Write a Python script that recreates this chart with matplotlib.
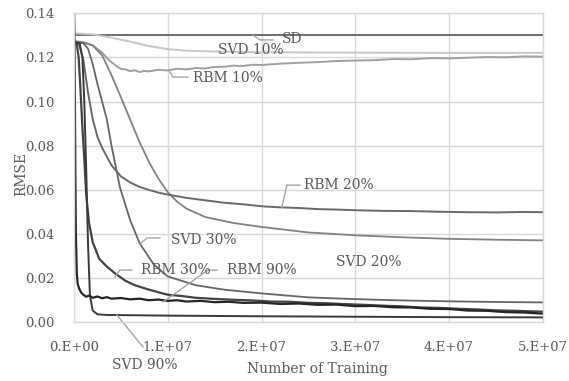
import matplotlib
matplotlib.use("Agg")
import matplotlib.pyplot as plt

# Datos (x en unidades de 1e7 entrenamientos, y = RMSE)
x_ticks = [0, 1, 2, 3, 4, 5]
x_tick_labels = ["0.E+00", "1.E+07", "2.E+07", "3.E+07", "4.E+07", "5.E+07"]
y_ticks = [0.00, 0.02, 0.04, 0.06, 0.08, 0.10, 0.12, 0.14]

sd_x = [0, 5]
sd_y = [0.130, 0.130]

svd10_x = [0, 0.2, 0.4, 0.6, 0.8, 1.0, 1.2, 1.5, 2.0, 3.0, 4.0, 5.0]
svd10_y = [0.131, 0.1305, 0.129, 0.1272, 0.1252, 0.1238, 0.1231, 0.1227, 0.1224, 0.1222, 0.1221, 0.1221]

rbm10_x = [0, 0.1, 0.2, 0.3, 0.38, 0.45, 0.5, 0.55, 0.6, 0.65,
           0.7, 0.75, 0.8, 0.9, 1.0, 1.1, 1.2, 1.3, 1.4, 1.5,
           1.6, 1.7, 1.8, 1.9, 2.0, 2.2, 2.4, 2.6, 2.8, 3.0,
           3.2, 3.4, 3.6, 3.8, 4.0, 4.2, 4.4, 4.6, 4.8, 5.0]
rbm10_y = [0.1275, 0.127, 0.1255, 0.1222, 0.1185, 0.1162, 0.1148, 0.1146, 0.1138, 0.1142,
           0.1134, 0.1139, 0.1137, 0.1144, 0.1141, 0.1149, 0.1146, 0.1152, 0.1150, 0.1157,
           0.1158, 0.1163, 0.1161, 0.1167, 0.1166, 0.1172, 0.1176, 0.1179, 0.1184, 0.1186,
           0.1188, 0.1193, 0.1192, 0.1197, 0.1196, 0.1199, 0.1202, 0.1201, 0.1205, 0.1204]

rbm20_x = [0, 0.05, 0.1, 0.15, 0.2, 0.25, 0.3, 0.4, 0.5, 0.6,
           0.7, 0.8, 0.9, 1.0, 1.2, 1.4, 1.6, 1.8, 2.0, 2.2,
           2.4, 2.6, 2.8, 3.0, 3.3, 3.6, 3.9, 4.2, 4.5, 4.8, 5.0]
rbm20_y = [0.127, 0.1265, 0.119, 0.104, 0.092, 0.084, 0.079, 0.071, 0.066, 0.0632,
           0.0612, 0.0598, 0.0586, 0.0577, 0.0562, 0.0551, 0.0540, 0.0533, 0.0524, 0.0519,
           0.0516, 0.0511, 0.0509, 0.0506, 0.0503, 0.0502, 0.0499, 0.0497, 0.0496, 0.0498, 0.0497]

svd20_x = [0, 0.1, 0.2, 0.3, 0.4, 0.5, 0.6, 0.7, 0.8, 0.9,
           1.0, 1.1, 1.2, 1.4, 1.7, 2.0, 2.5, 3.0, 3.5, 4.0, 4.5, 5.0]
svd20_y = [0.127, 0.1268, 0.1255, 0.121, 0.112, 0.102, 0.0917, 0.0815, 0.0725, 0.065,
           0.0588, 0.0545, 0.0513, 0.0475, 0.0448, 0.043, 0.0405, 0.0392, 0.0383, 0.0376, 0.0372, 0.0369]

svd30_x = [0, 0.1, 0.15, 0.2, 0.25, 0.3, 0.35, 0.4, 0.49, 0.6,
           0.7, 0.85, 1.0, 1.3, 1.6, 2.0, 2.5, 3.0, 3.5, 4.0, 4.5, 5.0]
svd30_y = [0.127, 0.1265, 0.124, 0.117, 0.108, 0.100, 0.092, 0.080, 0.061, 0.046,
           0.0356, 0.026, 0.0205, 0.0165, 0.0145, 0.0128, 0.011, 0.0102, 0.0096, 0.0092, 0.0089, 0.0087]

rbm30_x = [0, 0.03, 0.05, 0.07, 0.09, 0.11, 0.13, 0.16, 0.2, 0.27,
           0.35, 0.45, 0.55, 0.65, 0.8, 0.9, 1.0, 1.15, 1.3, 1.5,
           1.7, 1.9, 2.1, 2.3, 2.5, 2.7, 2.9, 3.1, 3.3, 3.5,
           3.7, 3.9, 4.1, 4.3, 4.5, 4.7, 5.0]
rbm30_y = [0.127, 0.126, 0.12, 0.105, 0.088, 0.074, 0.058, 0.045, 0.036, 0.0285,
           0.025, 0.0215, 0.0185, 0.0165, 0.0145, 0.0133, 0.0122, 0.0116, 0.0108, 0.0103,
           0.0099, 0.0096, 0.0091, 0.0090, 0.0085, 0.0083, 0.0079, 0.0076, 0.0072, 0.0069,
           0.0064, 0.0062, 0.0058, 0.0055, 0.0051, 0.0049, 0.0045]

rbm90_x = [0, 0.005, 0.01, 0.015, 0.02, 0.03, 0.04, 0.06, 0.08, 0.1,
           0.13, 0.16, 0.2, 0.25, 0.3, 0.35, 0.4, 0.5, 0.6, 0.7,
           0.8, 0.9, 1.0, 1.1, 1.2, 1.35, 1.5, 1.65, 1.8, 2.0,
           2.2, 2.4, 2.6, 2.8, 3.0, 3.2, 3.4, 3.6, 3.8, 4.0,
           4.2, 4.4, 4.6, 4.8, 5.0]
rbm90_y = [0.145, 0.13, 0.10, 0.065, 0.04, 0.022, 0.017, 0.0145, 0.013, 0.0122,
           0.0113, 0.0118, 0.0108, 0.0114, 0.0106, 0.0111, 0.0104, 0.0107, 0.0101, 0.0104,
           0.0097, 0.0100, 0.0094, 0.0097, 0.0091, 0.0094, 0.0088, 0.0090, 0.0085, 0.0086,
           0.0080, 0.0082, 0.0076, 0.0077, 0.0070, 0.0071, 0.0065, 0.0064, 0.0058, 0.0057,
           0.0050, 0.0049, 0.0043, 0.0041, 0.0036]

svd90_x = [0, 0.06, 0.09, 0.11, 0.13, 0.15, 0.17, 0.2, 0.25, 0.35,
           1.0, 2.0, 3.0, 4.0, 5.0]
svd90_y = [0.127, 0.1265, 0.12, 0.10, 0.07, 0.035, 0.012, 0.005, 0.0033, 0.003,
           0.0027, 0.0024, 0.0022, 0.002, 0.0019]

# (nombre, x, y, color, grosor)
series = [
    ("SD", sd_x, sd_y, "#6e6e6e", 1.4),
    ("SVD 10%", svd10_x, svd10_y, "#c8c8c8", 1.4),
    ("RBM 10%", rbm10_x, rbm10_y, "#a0a0a0", 1.4),
    ("SVD 20%", svd20_x, svd20_y, "#828282", 1.3),
    ("RBM 20%", rbm20_x, rbm20_y, "#6a6a6a", 1.4),
    ("SVD 30%", svd30_x, svd30_y, "#666666", 1.3),
    ("RBM 30%", rbm30_x, rbm30_y, "#444444", 1.6),
    ("SVD 90%", svd90_x, svd90_y, "#3a3a3a", 1.4),
    ("RBM 90%", rbm90_x, rbm90_y, "#262626", 1.6),
]

# etiquetas: (texto, posicion del texto, puntos de la linea guia)
labels = [
    ("SD", (2.324, 0.1285), [(1.908, 0.1302), (1.983, 0.128), (2.122, 0.128)]),
    ("SVD 10%", (1.887, 0.1234), None),
    ("RBM 10%", (1.642, 0.1107), [(1.023, 0.1134), (1.055, 0.1111), (1.215, 0.1111)]),
    ("RBM 20%", (2.825, 0.0620), [(2.217, 0.0520), (2.271, 0.0620), (2.409, 0.0620)]),
    ("SVD 20%", (3.145, 0.0270), None),
    ("SVD 30%", (1.386, 0.0370), [(0.704, 0.0352), (0.778, 0.0380), (0.917, 0.0380)]),
    ("RBM 30%", (1.087, 0.0234), [(0.437, 0.0202), (0.490, 0.0234), (0.618, 0.0234)]),
    ("RBM 90%", (2.004, 0.0234), [(0.949, 0.0089), (1.429, 0.0234), (1.525, 0.0234)]),
    ("SVD 90%", (0.757, -0.0198), [(0.458, 0.0030), (0.736, -0.0116)]),
]

text_color = "#595959"
grid_color = "#d9d9d9"
plt.rcParams["font.family"] = ["DejaVu Serif"]

fig = plt.figure(figsize=(5.69, 3.81), dpi=100)
ax = fig.add_axes([0.130, 0.156, 0.824, 0.8086])

# lineas de cada serie
for name, xs, ys, color, lw in series:
    ax.plot([v * 1e7 for v in xs], ys, color=color, lw=lw, solid_joinstyle="round")

# etiquetas con lineas guia
for text, (tx, ty), guide in labels:
    if guide is not None:
        ax.plot([p[0] * 1e7 for p in guide], [p[1] for p in guide],
                color="#a6a6a6", lw=1.0, clip_on=False)
    ax.text(tx * 1e7, ty, text, ha="center", va="center", fontsize=10,
            color=text_color, clip_on=False)

ax.set_xlim(0, 5e7)
ax.set_ylim(0, 0.14)
ax.set_xticks([v * 1e7 for v in x_ticks])
ax.set_xticklabels(x_tick_labels)
ax.set_yticks(y_ticks)
ax.set_yticklabels([f"{v:.2f}" for v in y_ticks])
ax.tick_params(length=0, labelsize=9.5, labelcolor=text_color)
ax.tick_params(axis="y", pad=14)
ax.tick_params(axis="x", pad=14)

ax.grid(True, color=grid_color, lw=1.0)
ax.set_axisbelow(True)
for spine in ax.spines.values():
    spine.set_color(grid_color)
    spine.set_linewidth(1.0)

ax.set_xlabel("Number of Training", fontsize=10, color=text_color)
ax.set_ylabel("RMSE", fontsize=10, color=text_color)
ax.xaxis.set_label_coords(0.52, -0.13)
ax.yaxis.set_label_coords(-0.098, 0.48)

fig.savefig("out.png", dpi=100)
